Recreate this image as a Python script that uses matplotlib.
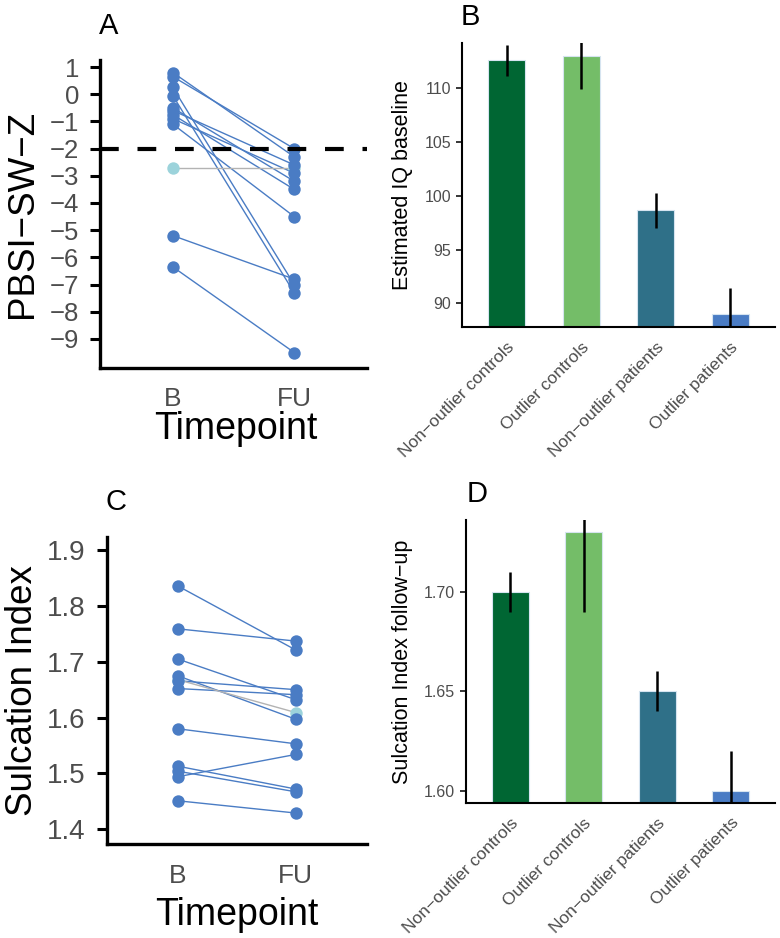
import numpy as np
import matplotlib.pyplot as plt

plt.rcParams['font.family'] = ['Liberation Sans', 'DejaVu Sans']

timepoints = ["B", "FU"]

# panel A: PBSI-SW-Z per subject, baseline / follow-up
pbsi_b = [0.8, 0.65, 0.25, -0.05, -0.5, -0.6, -0.75, -0.9, -1.1, -2.7, -5.2, -6.35]
pbsi_fu = [-2.3, -2.0, -7.0, -7.3, -3.2, -2.6, -3.5, -2.9, -4.5, -2.7, -6.8, -9.5]
pbsi_flag = [0, 0, 0, 0, 0, 0, 0, 0, 0, 1, 0, 0]

# panel C: sulcation index per subject
sulc_b = [1.836, 1.759, 1.705, 1.675, 1.666, 1.652, 1.668, 1.580, 1.513, 1.504, 1.494, 1.451]
sulc_fu = [1.721, 1.737, 1.632, 1.597, 1.650, 1.641, 1.609, 1.553, 1.472, 1.467, 1.534, 1.429]
sulc_flag = [0, 0, 0, 0, 0, 0, 1, 0, 0, 0, 0, 0]

groups = ["Non\u2212outlier controls", "Outlier controls",
          "Non\u2212outlier patients", "Outlier patients"]
group_colors = ["#006633", "#74BD68", "#2F7088", "#4A7CC4"]

# panel B: estimated IQ baseline
iq_mean = [112.6, 113.0, 98.65, 89.0]
iq_lo = [111.1, 109.9, 97.0, 86.5]
iq_hi = [114.05, 114.5, 100.3, 91.45]

# panel D: sulcation index follow-up
si_mean = [1.70, 1.73, 1.65, 1.60]
si_lo = [1.69, 1.69, 1.64, 1.58]
si_hi = [1.71, 1.77, 1.66, 1.62]

blue = "#4A7CC4"
cyan = "#9CD3DB"
tick_grey = "#4D4D4D"

W, H = 780, 938
fig = plt.figure(figsize=(W / 100, H / 100), dpi=100)


def add_ax(left, top, right, bottom):
    return fig.add_axes([left / W, 1 - bottom / H, (right - left) / W, (bottom - top) / H])


def paired_panel(ax, b, fu, flag):
    for vb, vf, f in zip(b, fu, flag):
        ax.plot(timepoints, [vb, vf], color="#B3B3B3" if f else blue, lw=1.0, zorder=2)
    for vb, vf, f in zip(b, fu, flag):
        if f:
            ax.scatter(timepoints, [vb, vf], s=80, color=cyan, zorder=3, linewidths=0)
    for vb, vf, f in zip(b, fu, flag):
        if not f:
            ax.scatter(timepoints, [vb, vf], s=80, color=blue, zorder=4, linewidths=0)
    ax.set_xlim(-0.6, 1.6)
    for s in ["top", "right"]:
        ax.spines[s].set_visible(False)
    for s in ["left", "bottom"]:
        ax.spines[s].set_linewidth(2.4)
    ax.tick_params(axis="y", length=7, width=2.2, colors="black", labelcolor=tick_grey, pad=8)
    ax.tick_params(axis="x", length=0, labelcolor=tick_grey, labelsize=19, pad=14)
    ax.set_xlabel("Timepoint", fontsize=27)


def bar_panel(ax, mean, lo, hi):
    x = np.arange(len(groups))
    ax.bar(x, mean, width=0.5, color=group_colors, edgecolor="#D6E4F0", linewidth=0.8, zorder=2)
    ax.vlines(x, lo, hi, color="black", lw=1.8, zorder=3)
    ax.set_xlim(-0.6, len(groups) - 0.4)
    ax.set_xticks(x)
    ax.set_xticklabels(groups, rotation=45, ha="right", va="top", rotation_mode="anchor",
                       fontsize=12.5, color=tick_grey)
    for s in ["top", "right"]:
        ax.spines[s].set_visible(False)
    for s in ["left", "bottom"]:
        ax.spines[s].set_linewidth(1.5)
    ax.tick_params(axis="y", length=4, width=1.1, colors="black", labelcolor=tick_grey,
                   labelsize=11.5, pad=4)
    ax.tick_params(axis="x", length=0, pad=9)


# A
axA = add_ax(100, 60, 367, 368)
paired_panel(axA, pbsi_b, pbsi_fu, pbsi_flag)
axA.axhline(-2, color="black", lw=3, dashes=(4.5, 4.5), zorder=5)
axA.set_ylim(-10.07, 1.26)
axA.set_yticks(np.arange(-9, 2, 1))
axA.tick_params(axis="y", labelsize=18.5)
axA.set_ylabel("PBSI\u2212SW\u2212Z", fontsize=26.5)
axA.yaxis.set_label_coords(-0.225, 0.5)
axA.xaxis.set_label_coords(0.51, -0.14)

# C
axC = add_ax(106.7, 536.7, 366.7, 844.3)
paired_panel(axC, sulc_b, sulc_fu, sulc_flag)
axC.set_ylim(1.373, 1.924)
axC.set_yticks([1.4, 1.5, 1.6, 1.7, 1.8, 1.9])
axC.tick_params(axis="y", labelsize=20)
axC.set_ylabel("Sulcation Index", fontsize=26.5)
axC.yaxis.set_label_coords(-0.255, 0.5)
axC.xaxis.set_label_coords(0.5, -0.17)

# B
axB = add_ax(462, 43, 775, 327)
bar_panel(axB, iq_mean, iq_lo, iq_hi)
axB.set_ylim(87.8, 114.2)
axB.set_yticks([90, 95, 100, 105, 110])
axB.set_ylabel("Estimated IQ baseline", fontsize=15.5)
axB.yaxis.set_label_coords(-0.157, 0.5)

# D
axD = add_ax(466, 520, 775, 802.7)
bar_panel(axD, si_mean, si_lo, si_hi)
axD.set_ylim(1.594, 1.736)
axD.set_yticks([1.60, 1.65, 1.70])
axD.set_yticklabels(["1.60", "1.65", "1.70"])
axD.set_ylabel("Sulcation Index follow\u2212up", fontsize=15.5)
axD.yaxis.set_label_coords(-0.172, 0.5)

# panel letters
for lab, x, y in [("A", 99, 12), ("B", 461, 3), ("C", 106, 488), ("D", 467, 480)]:
    fig.text(x / W, 1 - y / H, lab, fontsize=21, ha="left", va="top")

fig.savefig("out.png", dpi=100, facecolor="white")
